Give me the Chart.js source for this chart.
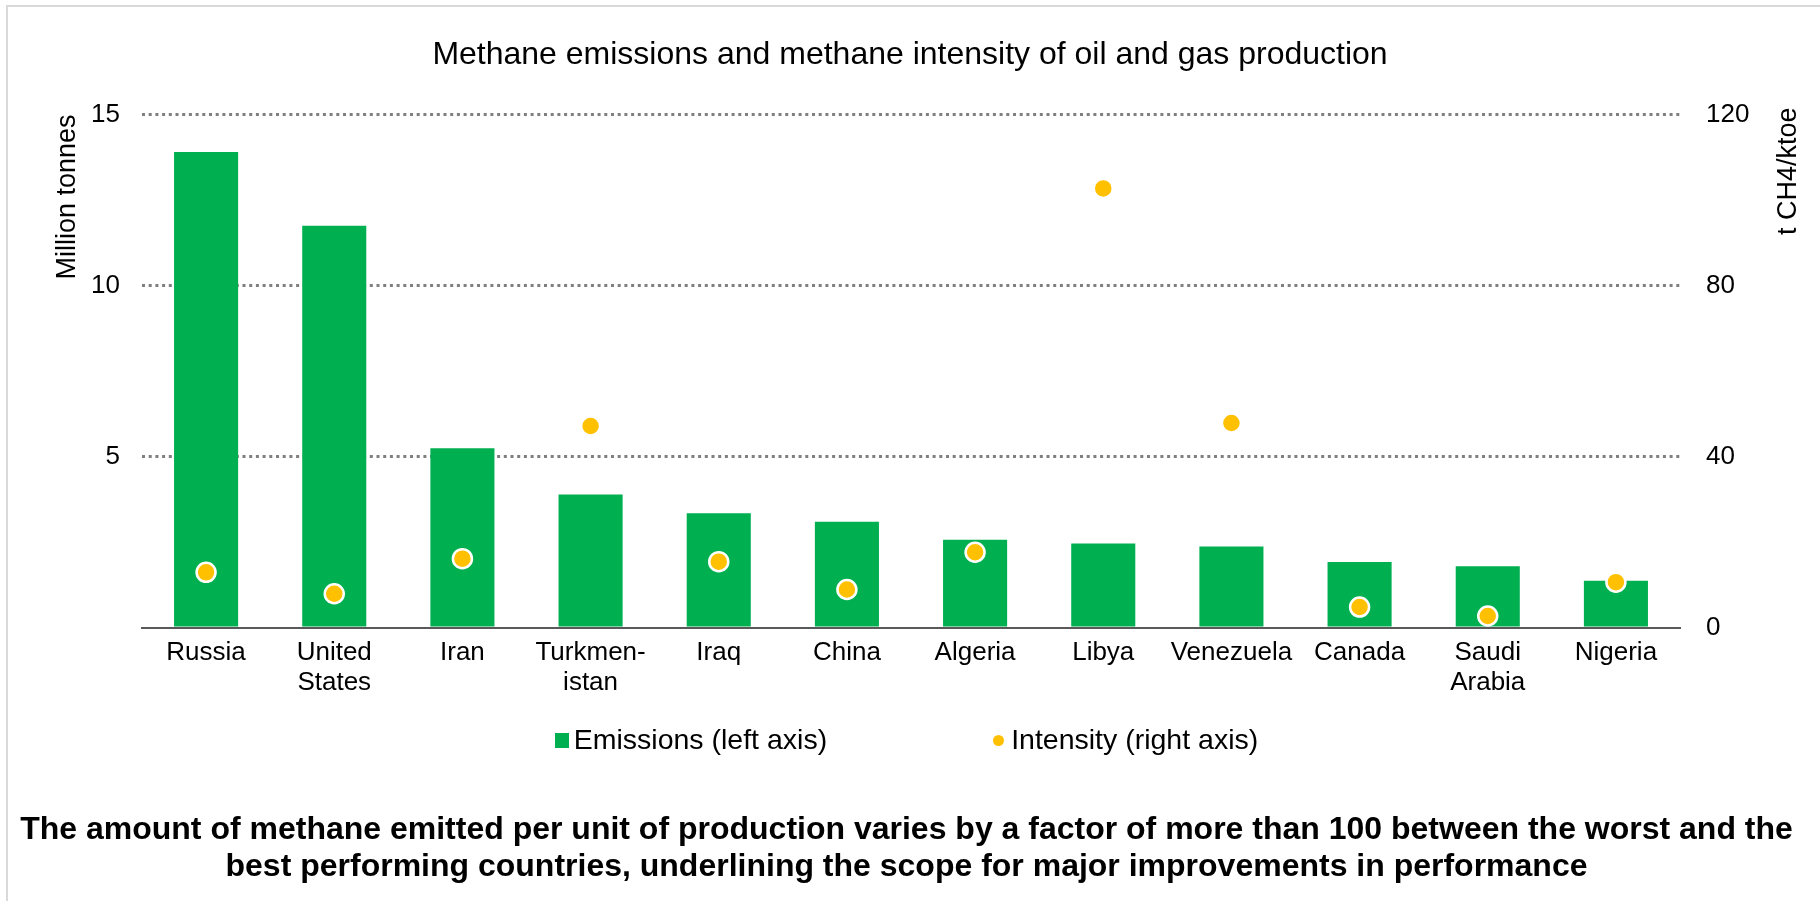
<!DOCTYPE html>
<html>
<head>
<meta charset="utf-8">
<title>Methane emissions and methane intensity</title>
<script src="https://cdn.jsdelivr.net/npm/chart.js@4.4.1/dist/chart.umd.min.js"></script>
<style>
  body { margin: 0; background: #fff; font-family: 'Liberation Sans', Arial, sans-serif; }
  #wrap { position: relative; width: 1820px; height: 901px; overflow: hidden; }
  #frame { position: absolute; left: 6px; top: 5px; width: 1900px; height: 1000px; border: 2px solid #d9d9d9; }
  #chart { position: absolute; left: 0; top: 0; }
  #legend { position: absolute; left: 0; top: 723px; width: 1813px; display: flex; justify-content: center; gap: 166px; font-size: 28.5px; line-height: 32px; color: #000; }
  .item { display: flex; align-items: center; }
  .box { width: 14px; height: 15px; margin-right: 5px; position: relative; top: 1px; }
  .dot { width: 11px; height: 11px; border-radius: 50%; margin-right: 7px; position: relative; top: 1px; }
  #caption { position: absolute; left: 0; top: 810px; width: 1813px; text-align: center; font-weight: bold; font-size: 32px; line-height: 37px; color: #000; }
</style>
</head>
<body>
<div id="wrap">
  <div id="frame"></div>
  <canvas id="chart" width="1820" height="901"></canvas>
  <div id="legend"></div>
  <div id="caption">The amount of methane emitted per unit of production varies by a factor of more than 100 between the worst and the<br>best performing countries, underlining the scope for major improvements in performance</div>
</div>
<script>
// Chart data
const countries = ['Russia', ['United', 'States'], 'Iran', ['Turkmen-', 'istan'], 'Iraq', 'China', 'Algeria', 'Libya', 'Venezuela', 'Canada', ['Saudi', 'Arabia'], 'Nigeria'];
const emissions = [13.9, 11.75, 5.25, 3.9, 3.35, 3.1, 2.58, 2.47, 2.38, 1.93, 1.8, 1.38];   // Mt CH4, left axis
const intensity = [13.0, 8.0, 16.2, 47.2, 15.5, 9.0, 17.7, 102.7, 47.9, 4.9, 2.8, 10.7];     // t CH4/ktoe, right axis

const leftMax = 15, leftStep = 5;
const rightMax = 120, rightStep = 40;

const chartTitle = 'Methane emissions and methane intensity of oil and gas production';
const leftAxisTitle = 'Million tonnes';
const rightAxisTitle = 't CH4/ktoe';

const green = '#00B050';
const yellow = '#FFC000';

Chart.defaults.font.family = "'Liberation Sans', Arial, sans-serif";
Chart.defaults.color = '#000';

// Right axis title reads bottom-to-top in the original, so draw it here
const rightTitle = {
    id: 'rightTitle',
    afterDraw(chart) {
        const { ctx, chartArea, scales } = chart;
        ctx.save();
        ctx.font = "27px 'Liberation Sans', Arial, sans-serif";
        ctx.fillStyle = '#000';
        ctx.translate(scales.y1.right - 31, chartArea.top - 7);
        ctx.rotate(-Math.PI / 2);
        ctx.textAlign = 'right';
        ctx.textBaseline = 'middle';
        ctx.fillText(rightAxisTitle, 0, 0);
        ctx.restore();
    }
};

const chart = new Chart(document.getElementById('chart').getContext('2d'), {
    type: 'bar',
    data: {
        labels: countries,
        datasets: [
            {
                label: 'Emissions (left axis)',
                data: emissions,
                backgroundColor: green,
                yAxisID: 'y',
                categoryPercentage: 1.0,
                barPercentage: 0.5,
                order: 2
            },
            {
                type: 'line',
                label: 'Intensity (right axis)',
                data: intensity,
                yAxisID: 'y1',
                showLine: false,
                pointRadius: 9.5,
                pointBackgroundColor: yellow,
                pointBorderColor: '#fff',
                pointBorderWidth: 2.5,
                backgroundColor: yellow,
                order: 1
            }
        ]
    },
    options: {
        responsive: false,
        animation: false,
        layout: { padding: 0 },
        plugins: {
            legend: { display: false },  // html legend below
            tooltip: { enabled: false },
            title: {
                display: true,
                text: chartTitle,
                color: '#000',
                font: { size: 32, weight: 'normal' },
                padding: { top: 36, bottom: 40 }
            }
        },
        scales: {
            x: {
                grid: { display: false, drawTicks: false },
                border: { display: true, color: '#595959', width: 2 },
                ticks: { color: '#000', font: { size: 26, lineHeight: 1.15 }, padding: 10, maxRotation: 0, autoSkip: false },
                afterFit: scale => { scale.height = 273 }
            },
            y: {
                position: 'left',
                min: 0,
                max: leftMax,
                ticks: {
                    stepSize: leftStep,
                    color: '#000',
                    font: { size: 26 },
                    padding: 22,
                    callback: value => value === 0 ? '' : value  // no zero on the left axis
                },
                grid: {
                    color: ctx => ctx.tick.value === 0 ? 'transparent' : '#7f7f7f',
                    lineWidth: 3,
                    drawTicks: false
                },
                border: { display: false, dash: [3, 3.7] },
                title: {
                    display: true,
                    text: leftAxisTitle,
                    align: 'end',
                    color: '#000',
                    font: { size: 27 },
                    padding: { top: 51, bottom: 0 }
                },
                afterFit: scale => { scale.width = 142 }
            },
            y1: {
                position: 'right',
                min: 0,
                max: rightMax,
                ticks: { stepSize: rightStep, color: '#000', font: { size: 26 }, padding: 26 },
                grid: { display: false, drawTicks: false },
                border: { display: false },
                afterFit: scale => { scale.width = 140 }
            }
        }
    },
    plugins: [rightTitle]
});

// Build the legend from the datasets
const legendEl = document.getElementById('legend');
chart.data.datasets.forEach(ds => {
    const item = document.createElement('div');
    item.className = 'item';
    const marker = document.createElement('span');
    marker.className = ds.type === 'line' ? 'dot' : 'box';
    marker.style.background = ds.backgroundColor;
    const text = document.createElement('span');
    text.textContent = ds.label;
    item.appendChild(marker);
    item.appendChild(text);
    legendEl.appendChild(item);
});
</script>
</body>
</html>
